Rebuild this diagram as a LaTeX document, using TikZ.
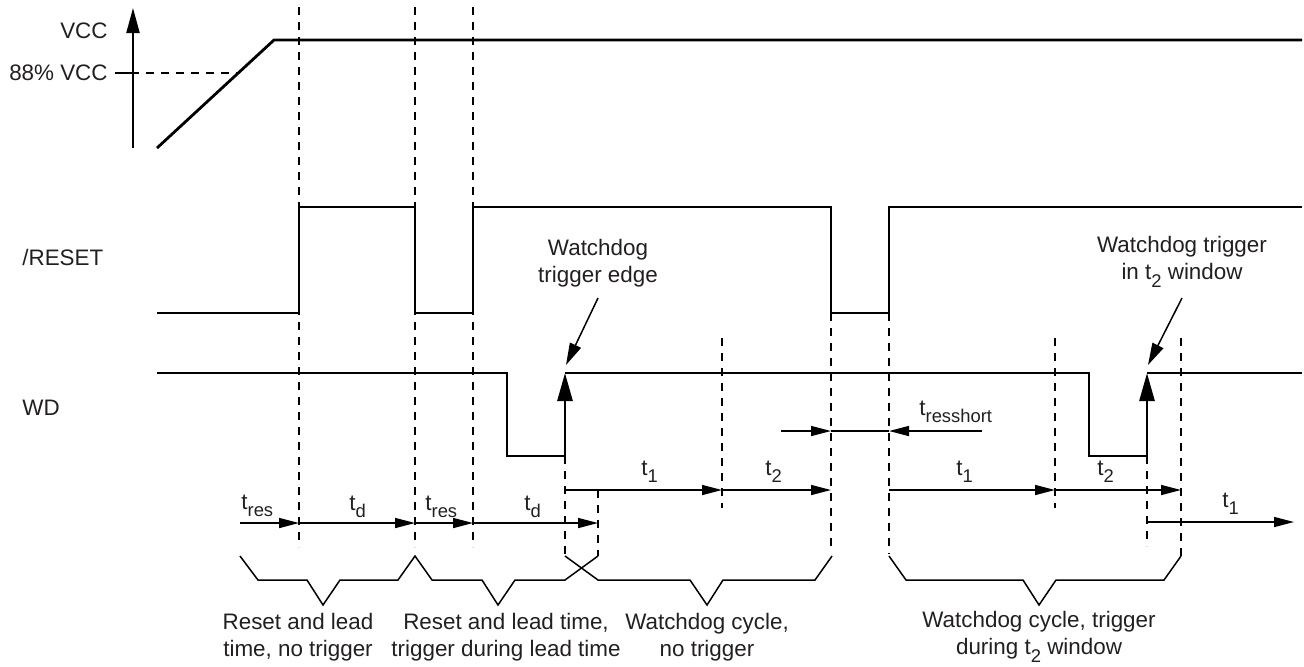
\documentclass[tikz,border=0pt]{standalone}
\usepackage{fontspec}
\setmainfont{Liberation Sans}
\usetikzlibrary{arrows.meta}
\definecolor{txt}{RGB}{35,31,32}
\newcommand{\tsub}[1]{\raisebox{-3.8pt}{\fontsize{9.2}{9.5}\selectfont #1}}
\begin{document}
\begin{tikzpicture}[x=0.5pt,y=-0.5pt,
  sig/.style={line width=1.4pt,line join=miter},
  axisline/.style={line width=1.1pt},
  gridline/.style={line width=0.75pt,dash pattern=on 4pt off 3.5pt},
  tarrow/.style={line width=0.75pt,-{Triangle[length=10pt,width=5pt]}},
  edgearrow/.style={line width=1.4pt,-{Triangle[length=14pt,width=7.5pt]}},
  annarrow/.style={line width=0.75pt,-{Triangle[length=11pt,width=6pt]}},
  bracepath/.style={line width=0.75pt,line join=miter},
  lbl/.style={font=\fontsize{11.2}{13.5}\selectfont,text=txt,inner sep=0pt,align=center},
  tlbl/.style={font=\fontsize{11.2}{13.5}\selectfont,text=txt,inner sep=0pt,anchor=base west}]
\useasboundingbox (0,0) rectangle (1304,666);

% ---- VCC axis
\coordinate (ax0) at (133,148);
\coordinate (ax1) at (133,8);
\draw[axisline,-{Triangle[length=12.5pt,width=6.5pt]}] (ax0) -- (ax1);
\node[lbl,anchor=east] (vcc) at (108,31) {VCC};
\node[lbl,anchor=east] (v88) at (108,73) {88\% VCC};
\coordinate (tk0) at (115,73);
\coordinate (tk1) at (139,73);
\coordinate (tk2) at (146,73);
\coordinate (tk3) at (237,73);
\draw[axisline,line width=0.75pt] (tk0) -- (tk1);
\draw[gridline] (tk2) -- (tk3);
\draw[sig] (157,148) -- (274,40) -- (1302,40);

% ---- signal labels
\node[lbl,anchor=west] (rst) at (22,257) {/RESET};
\node[lbl,anchor=west] (wd) at (22,408) {WD};

% ---- /RESET
\draw[sig] (157,313) -- (299,313) -- (299,207) -- (415,207) -- (415,313) -- (473,313)
  -- (473,207) -- (831,207) -- (831,313) -- (889,313) -- (889,207) -- (1302,207);

% ---- WD
\draw[sig] (157,373) -- (507,373) -- (507,456) -- (566,456);
\draw[edgearrow] (565,456) -- (565,373);
\draw[sig] (565,373) -- (1089,373) -- (1089,456) -- (1148,456);
\draw[edgearrow] (1147,456) -- (1147,373);
\draw[sig] (1147,373) -- (1302,373);

% ---- dashed guide lines
\draw[gridline] (299,7) -- (299,547);
\draw[gridline] (415,7) -- (415,547);
\draw[gridline] (473,7) -- (473,547);
\draw[gridline] (565,456) -- (565,556);
\draw[gridline] (598,490) -- (598,556);
\draw[gridline] (722,338) -- (722,508);
\draw[gridline] (831,313) -- (831,550);
\draw[gridline] (889,313) -- (889,554);
\draw[gridline] (1055,338) -- (1055,508);
\draw[gridline] (1147,456) -- (1147,546);
\draw[gridline] (1181,338) -- (1181,556);

% ---- time arrows
\coordinate (ra0) at (240,523);
\coordinate (ra1) at (299,523);
\coordinate (ra2) at (415,523);
\coordinate (ra3) at (473,523);
\coordinate (ra4) at (598,523);
\draw[tarrow] (ra0) -- (ra1);
\draw[tarrow] (ra1) -- (ra2);
\draw[tarrow] (ra2) -- (ra3);
\draw[tarrow] (ra3) -- (ra4);
\node[tlbl] (tres1) at (241,509) {t\tsub{res}};
\node[tlbl] (td1) at (349,510) {t\tsub{d}};
\node[tlbl] (tres2) at (425,510) {t\tsub{res}};
\node[tlbl] (td2) at (524,510) {t\tsub{d}};

\coordinate (rb0) at (565,490);
\coordinate (rb1) at (722,490);
\coordinate (rb2) at (831,490);
\coordinate (rb3) at (889,490);
\coordinate (rb4) at (1055,490);
\coordinate (rb5) at (1181,490);
\draw[tarrow] (rb0) -- (rb1);
\draw[tarrow] (rb1) -- (rb2);
\draw[tarrow] (rb3) -- (rb4);
\draw[tarrow] (rb4) -- (rb5);
\node[tlbl] (t1a) at (641,475) {t\tsub{1}};
\node[tlbl] (t2a) at (765,475) {t\tsub{2}};
\node[tlbl] (t1b) at (956,475) {t\tsub{1}};
\node[tlbl] (t2b) at (1097,475) {t\tsub{2}};

\coordinate (rc0) at (1147,522);
\coordinate (rc1) at (1294,522);
\draw[tarrow] (rc0) -- (rc1);
\node[tlbl] (t1c) at (1222,507) {t\tsub{1}};

% ---- t_resshort
\coordinate (rs0) at (781,431);
\coordinate (rs1) at (831,431);
\coordinate (rs2) at (889,431);
\coordinate (rs3) at (982,431);
\draw[tarrow] (rs0) -- (rs1);
\draw[line width=0.75pt] (rs1) -- (rs2);
\draw[tarrow] (rs3) -- (rs2);
\node[tlbl] (tshort) at (919,415) {t\tsub{resshort}};

% ---- braces
\draw[bracepath] (240,556) -- (258,580) -- (307,580) -- (323,605) -- (340,580) -- (398,580)
  -- (415,556) -- (432,580) -- (482,580) -- (498,605) -- (515,580) -- (565,580) -- (598,556);
\draw[bracepath] (565,556) -- (598,580) -- (690,580) -- (707,605) -- (723,580) -- (815,580) -- (832,556);
\draw[bracepath] (889,556) -- (906,580) -- (1023,580) -- (1039,605) -- (1056,580) -- (1164,580) -- (1181,556);

% ---- bottom labels
\node[lbl] (b1) at (298,637) {Reset and lead\\time, no trigger};
\node[lbl] (b2) at (506,637) {Reset and lead time,\\trigger during lead time};
\node[lbl] (b3) at (707,637) {Watchdog cycle,\\no trigger};
\node[lbl] (b4) at (1039,637) {Watchdog cycle, trigger\\during t\tsub{2} window};

% ---- annotations
\node[lbl] (wte) at (598,263) {Watchdog\\trigger edge};
\coordinate (a1s) at (598,298);
\coordinate (a1e) at (566,365);
\draw[annarrow] (a1s) -- (a1e);
\node[lbl] (wtw) at (1182,262) {Watchdog trigger\\in t\tsub{2} window};
\coordinate (a2s) at (1182,298);
\coordinate (a2e) at (1148,365);
\draw[annarrow] (a2s) -- (a2e);
\end{tikzpicture}
\end{document}
